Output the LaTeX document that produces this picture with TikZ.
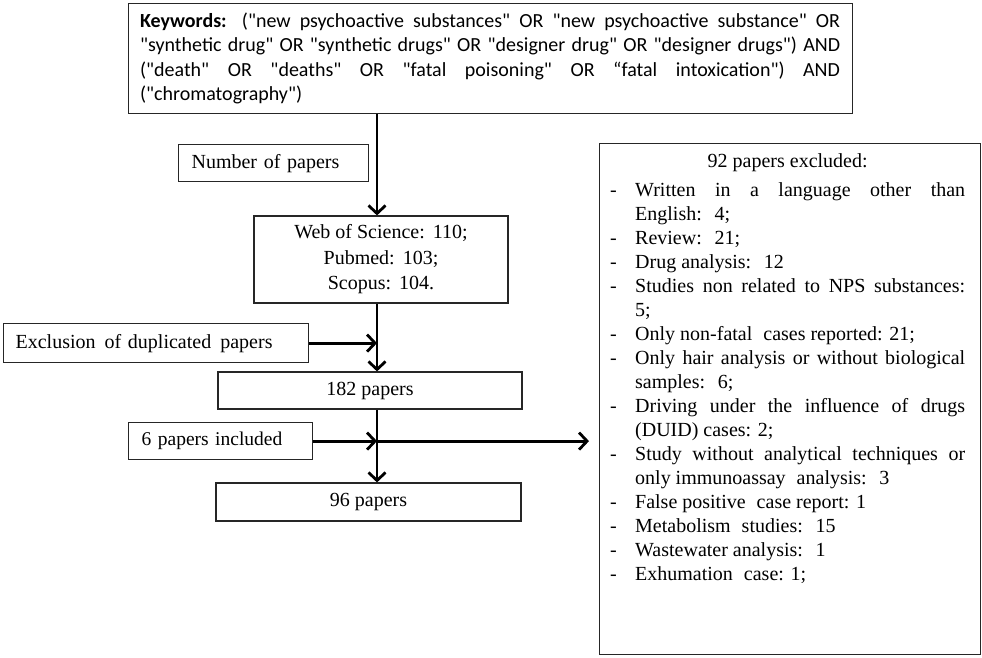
\documentclass[tikz,border=0pt]{standalone}
\usepackage{fontspec}
\setmainfont{Liberation Serif}
\newfontfamily\kwfont{Carlito}
\usetikzlibrary{arrows.meta}
\newcommand\exitem[1]{\par\hangindent=25pt\hangafter=1\noindent\makebox[25pt][l]{-}#1}
\begin{document}
\begin{tikzpicture}[x=1pt,y=-1pt,
  box/.style={draw=black!85, line width=1.2pt, inner sep=0pt, font=\fontsize{20}{25}\selectfont},
  arr/.style={line width=2.8pt, -{Straight Barb[length=8pt,width=17pt]}}]
\useasboundingbox (0,0) rectangle (982,657);
\coordinate (spine) at (377,0);

\node[box, anchor=north west, text width=700pt, inner xsep=12pt, minimum height=110pt,
      align=justify, font=\kwfont\fontsize{20}{24.5}\selectfont] (kw) at (127.5,3)
 {\textbf{Keywords:} ("new psychoactive substances" OR "new psychoactive substance" OR\linebreak
  "synthetic drug" OR "synthetic drugs" OR "designer drug" OR "designer drugs") AND\linebreak
  ("death" OR "deaths" OR "fatal poisoning" OR “fatal intoxication") AND\linebreak
  ("chromatography")};

\node[box, anchor=north west, text width=164pt, inner xsep=13pt, minimum height=37pt, align=left] (np) at (178,144) {Number of papers};

\node[box, minimum width=254pt, minimum height=87pt, align=center, font=\fontsize{20}{25.5}\selectfont] (wos) at (381,259.5)
 {Web of Science:\hspace{0.4em}110;\\Pubmed:\hspace{0.4em}103;\\Scopus:\hspace{0.4em}104.};

\node[box, anchor=north west, text width=281pt, inner xsep=12pt, minimum height=39pt, align=left] (excl) at (3,323) {Exclusion\hspace{0.12em} of duplicated\hspace{0.12em} papers};

\node[box, minimum width=304pt, minimum height=37pt] (p182) at (370,390.5) {182 papers};

\node[box, anchor=north west, text width=158pt, inner xsep=13pt, minimum height=37pt, align=left, font=\fontsize{19.5}{25}\selectfont] (inc) at (128,422) {6 papers included};

\node[box, minimum width=305pt, minimum height=38pt] (p96) at (368.5,502) {96 papers};

\node[box, anchor=north west, minimum width=381pt, minimum height=511pt] (ex) at (599,143) {};
\node[anchor=north west, inner sep=0pt, text width=355pt, align=justify, font=\fontsize{20}{24}\selectfont] (extext) at (610,153)
 {{\centering 92 papers excluded:\par}\vspace{5.5pt}%
  \exitem{Written in a language other than\linebreak English:\hspace{0.3em} 4;}
  \exitem{Review:\hspace{0.3em} 21;}
  \exitem{Drug analysis:\hspace{0.3em} 12}
  \exitem{Studies non related to NPS substances:\linebreak 5;}
  \exitem{Only non-fatal\hspace{0.3em} cases reported: 21;}
  \exitem{Only hair analysis or without biological\linebreak samples:\hspace{0.3em} 6;}
  \exitem{Driving under the influence of drugs\linebreak (DUID) cases: 2;}
  \exitem{Study without analytical techniques or\linebreak only immunoassay\hspace{0.3em} analysis:\hspace{0.3em} 3}
  \exitem{False positive\hspace{0.3em} case report: 1}
  \exitem{Metabolism\hspace{0.3em} studies:\hspace{0.3em} 15}
  \exitem{Wastewater analysis:\hspace{0.3em} 1}
  \exitem{Exhumation\hspace{0.3em} case: 1;}\par};

\draw[arr] (kw.south -| spine) -- (wos.north -| spine);
\draw[arr] (wos.south -| spine) -- (p182.north -| spine);
\draw[arr] (excl.east) -- (excl.east -| spine);
\draw[arr] (p182.south -| spine) -- (p96.north -| spine);
\draw[arr] (inc.east) -- (inc.east -| spine);
\draw[arr, shorten >=10pt] (inc.east -| spine) -- (inc.east -| ex.west);
\end{tikzpicture}
\end{document}
